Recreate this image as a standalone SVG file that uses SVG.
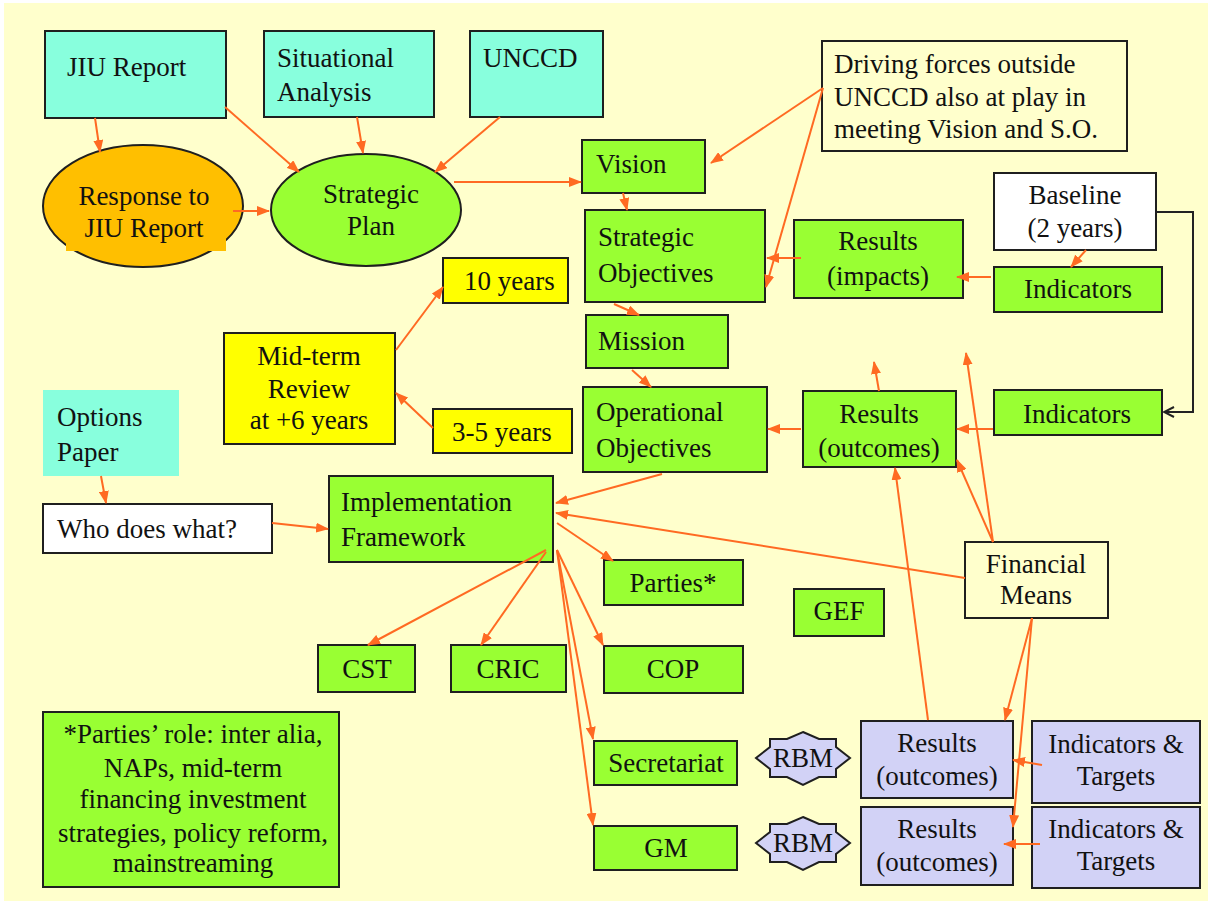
<svg xmlns="http://www.w3.org/2000/svg" width="1212" height="905" viewBox="0 0 1212 905" font-family="'Liberation Serif', 'Times New Roman', 'DejaVu Serif', serif">
<defs>
<marker id="ah" markerUnits="userSpaceOnUse" markerWidth="13" markerHeight="10" refX="12" refY="5" orient="auto"><path d="M0,0 L13,5 L0,10 z" fill="#FF6A22"/></marker>
<marker id="oah" markerUnits="userSpaceOnUse" markerWidth="12" markerHeight="12" refX="11" refY="6" orient="auto"><path d="M1,1 L11,6 L1,11" fill="none" stroke="#222" stroke-width="2"/></marker>
<style>
.b{stroke:#1f1f1f;stroke-width:2}
.g{fill:#99FF33}
.c{fill:#88FFDD}
.y{fill:#FFFF00}
.l{fill:#D2D2F6}
.w{fill:#FFFFFF}
.n{fill:none}
text{font-family:'Liberation Serif','Times New Roman','DejaVu Serif',serif;font-size:27px;fill:#111}
.m{text-anchor:middle}
.k path,.k line,.k polyline{stroke:#FF6A22;stroke-width:2;fill:none;marker-end:url(#ah)}
</style>
</defs>
<rect x="0" y="0" width="1212" height="905" fill="#FFFFFF"/>
<rect x="4" y="3" width="1204" height="898" fill="#FFFFCC"/>

<g id="jiu"><rect class="b c" x="45" y="31" width="181" height="87"/><text x="67" y="76">JIU Report</text></g>
<g id="situ"><rect class="b c" x="264" y="31" width="170" height="86"/><text x="277" y="67">Situational</text><text x="277" y="101">Analysis</text></g>
<g id="unccd"><rect class="b c" x="470" y="31" width="133" height="86"/><text x="483" y="67">UNCCD</text></g>
<g id="response"><ellipse class="b" cx="143" cy="206" rx="100" ry="61" fill="#FFBF00"/><rect x="66" y="226" width="160" height="25" fill="#FFBF00"/><text class="m" x="144" y="205">Response to</text><text class="m" x="144" y="237">JIU Report</text></g>
<g id="splan"><ellipse class="b g" cx="366" cy="210" rx="95" ry="56"/><text class="m" x="371" y="203">Strategic</text><text class="m" x="371" y="235">Plan</text></g>
<g id="driving"><rect class="b n" x="822" y="41" width="305" height="110"/><text x="834" y="73">Driving forces outside</text><text x="834" y="106">UNCCD also at play in</text><text x="834" y="138">meeting Vision and S.O.</text></g>
<g id="vision"><rect class="b g" x="582" y="140" width="123" height="53"/><text x="596" y="173">Vision</text></g>
<g id="so"><rect class="b g" x="585" y="210" width="180" height="92"/><text x="598" y="246">Strategic</text><text x="598" y="282">Objectives</text></g>
<g id="rimpacts"><rect class="b g" x="794" y="220" width="169" height="78"/><text class="m" x="878" y="250">Results</text><text class="m" x="878" y="285">(impacts)</text></g>
<g id="baseline"><rect class="b w" x="994" y="173" width="162" height="77"/><text class="m" x="1075" y="204">Baseline</text><text class="m" x="1075" y="237">(2 years)</text></g>
<g id="ind1"><rect class="b g" x="994" y="267" width="168" height="45"/><text class="m" x="1078" y="298">Indicators</text></g>
<g id="ten"><rect class="b y" x="443" y="258" width="125" height="45"/><text x="464" y="290">10 years</text></g>
<g id="mission"><rect class="b g" x="586" y="315" width="142" height="53"/><text x="598" y="350">Mission</text></g>
<g id="midterm"><rect class="b y" x="224" y="333" width="171" height="111"/><text class="m" x="309" y="365">Mid-term</text><text class="m" x="309" y="398">Review</text><text class="m" x="309" y="429">at +6 years</text></g>
<g id="three"><rect class="b y" x="433" y="409" width="139" height="44"/><text x="452" y="441">3-5 years</text></g>
<g id="oo"><rect class="b g" x="583" y="387" width="184" height="85"/><text x="596" y="421">Operational</text><text x="596" y="457">Objectives</text></g>
<g id="routc"><rect class="b g" x="803" y="391" width="153" height="76"/><text class="m" x="879" y="423">Results</text><text class="m" x="879" y="457">(outcomes)</text></g>
<g id="ind2"><rect class="b g" x="994" y="390" width="168" height="45"/><text class="m" x="1077" y="423">Indicators</text></g>
<g id="options"><rect class="c" x="43" y="390" width="136" height="86"/><text x="57" y="426">Options</text><text x="57" y="461">Paper</text></g>
<g id="who"><rect class="b w" x="43" y="504" width="229" height="49"/><text x="57" y="538">Who does what?</text></g>
<g id="impl"><rect class="b g" x="329" y="476" width="224" height="86"/><text x="341" y="511">Implementation</text><text x="341" y="546">Framework</text></g>
<g id="parties"><rect class="b g" x="604" y="560" width="139" height="45"/><text class="m" x="673" y="592">Parties*</text></g>
<g id="fin"><rect class="b n" x="965" y="542" width="143" height="76"/><text class="m" x="1036" y="573">Financial</text><text class="m" x="1036" y="604">Means</text></g>
<g id="gef"><rect class="b g" x="794" y="589" width="90" height="47"/><text class="m" x="839" y="620">GEF</text></g>
<g id="cst"><rect class="b g" x="318" y="645" width="97" height="47"/><text class="m" x="367" y="678">CST</text></g>
<g id="cric"><rect class="b g" x="451" y="645" width="115" height="47"/><text class="m" x="508" y="678">CRIC</text></g>
<g id="cop"><rect class="b g" x="604" y="646" width="139" height="47"/><text class="m" x="673" y="678">COP</text></g>
<g id="note"><rect class="b g" x="43" y="712" width="296" height="175"/><text class="m" x="193" y="743">*Parties’ role: inter alia,</text><text class="m" x="193" y="777">NAPs, mid-term</text><text class="m" x="193" y="808">financing investment</text><text class="m" x="193" y="842">strategies, policy reform,</text><text class="m" x="193" y="872">mainstreaming</text></g>
<g id="secr"><rect class="b g" x="594" y="741" width="143" height="44"/><text class="m" x="666" y="772">Secretariat</text></g>
<g id="gm"><rect class="b g" x="594" y="826" width="143" height="44"/><text class="m" x="666" y="857">GM</text></g>
<g id="rbm1"><polygon class="b l" transform="translate(803,758)" points="0,-26 16,-19 33,-19 33,-11 47,0 33,11 33,19 16,19 0,27 -16,19 -33,19 -33,11 -47,0 -33,-11 -33,-19 -16,-19"/><text class="m" x="803" y="767">RBM</text></g>
<g id="rbm2"><polygon class="b l" transform="translate(803,843)" points="0,-26 16,-19 33,-19 33,-11 47,0 33,11 33,19 16,19 0,27 -16,19 -33,19 -33,11 -47,0 -33,-11 -33,-19 -16,-19"/><text class="m" x="803" y="852">RBM</text></g>
<g id="rl1"><rect class="b l" x="861" y="721" width="152" height="77"/><text class="m" x="937" y="752">Results</text><text class="m" x="937" y="785">(outcomes)</text></g>
<g id="it1"><rect class="b l" x="1032" y="721" width="168" height="82"/><text class="m" x="1116" y="753">Indicators &amp;</text><text class="m" x="1116" y="785">Targets</text></g>
<g id="rl2"><rect class="b l" x="861" y="807" width="152" height="78"/><text class="m" x="937" y="838">Results</text><text class="m" x="937" y="871">(outcomes)</text></g>
<g id="it2"><rect class="b l" x="1032" y="807" width="168" height="81"/><text class="m" x="1116" y="838">Indicators &amp;</text><text class="m" x="1116" y="870">Targets</text></g>

<g id="connectors" class="k">
<line x1="95" y1="118" x2="100" y2="152"/>
<line x1="225" y1="107" x2="299" y2="172"/>
<line x1="357" y1="117" x2="363" y2="153"/>
<line x1="500" y1="117" x2="435" y2="172"/>
<line x1="233" y1="211" x2="269" y2="211"/>
<line x1="454" y1="182" x2="581" y2="182"/>
<line x1="823" y1="88" x2="711" y2="163"/>
<line x1="823" y1="88" x2="766" y2="287"/>
<line x1="623" y1="193" x2="627" y2="210"/>
<line x1="801" y1="258" x2="767" y2="258"/>
<line x1="991" y1="277" x2="957" y2="277"/>
<line x1="1086" y1="250" x2="1071" y2="267"/>
<line x1="614" y1="304" x2="639" y2="315"/>
<line x1="632" y1="370" x2="651" y2="387"/>
<line x1="396" y1="350" x2="443" y2="287"/>
<line x1="433" y1="428" x2="396" y2="393"/>
<line x1="801" y1="429" x2="768" y2="429"/>
<line x1="993" y1="429" x2="957" y2="429"/>
<line x1="879" y1="391" x2="874" y2="362"/>
<line x1="993" y1="542" x2="966" y2="353"/>
<line x1="993" y1="542" x2="957" y2="460"/>
<line x1="928" y1="720" x2="895" y2="468"/>
<line x1="662" y1="474" x2="556" y2="503"/>
<line x1="965" y1="578" x2="556" y2="513"/>
<line x1="101" y1="476" x2="106" y2="503"/>
<line x1="272" y1="523" x2="328" y2="529"/>
<line x1="557" y1="523" x2="613" y2="561"/>
<line x1="546" y1="550" x2="368" y2="645"/>
<line x1="546" y1="552" x2="481" y2="645"/>
<line x1="557" y1="550" x2="603" y2="645"/>
<line x1="557" y1="550" x2="593" y2="739"/>
<line x1="557" y1="550" x2="593" y2="825"/>
<line x1="1032" y1="618" x2="1005" y2="720"/>
<line x1="1032" y1="618" x2="1013" y2="827"/>
<line x1="1042" y1="765" x2="1013" y2="760"/>
<line x1="1040" y1="844" x2="1004" y2="844"/>
<polyline points="1156,212 1193,212 1193,412 1164,412" style="stroke:#222;marker-end:url(#oah)"/>
</g>
</svg>
